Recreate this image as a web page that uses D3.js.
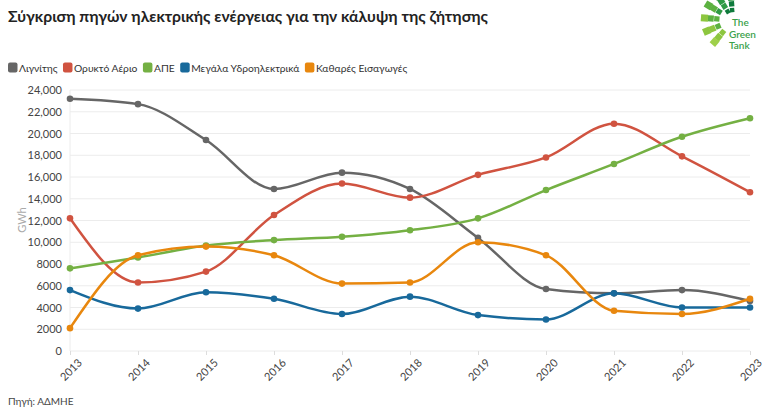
<!DOCTYPE html>
<html><head><meta charset="utf-8">
<script src="https://cdn.jsdelivr.net/npm/d3@7"></script>
<style>
body{margin:0;background:#fff;font-family:Lato,"Noto Sans",sans-serif;}
svg{display:block}
</style></head><body>
<svg id="c" width="767" height="415"></svg>
<script>
const years = [2013,2014,2015,2016,2017,2018,2019,2020,2021,2022,2023];
const lignite = [23200,22700,19400,14900,16400,14900,10400,5700,5300,5600,4600];
const gas     = [12200,6300,7300,12500,15400,14100,16200,17800,20900,17900,14600];
const res     = [7600,8600,9700,10200,10500,11100,12200,14800,17200,19700,21400];
const hydro   = [5600,3900,5400,4800,3400,5000,3300,2900,5300,4000,4000];
const imports = [2100,8800,9600,8800,6200,6300,10000,8800,3700,3400,4800];
const seriesNames = ["Λιγνίτης","Ορυκτό Αέριο","ΑΠΕ","Μεγάλα Υδροηλεκτρικά","Καθαρές Εισαγωγές"];
const seriesColors = ["#666666","#d05340","#74b043","#18699b","#e8870e"];
const yTicks = [0,2000,4000,6000,8000,10000,12000,14000,16000,18000,20000,22000,24000];
const title = "Σύγκριση πηγών ηλεκτρικής ενέργειας για την κάλυψη της ζήτησης";
const source = "Πηγή: ΑΔΜΗΕ";
const yLabel = "GWh";
const logoWords = ["The","Green","Tank"];

const seriesData = [lignite,gas,res,hydro,imports];
const svg = d3.select("#c");
const x = d3.scaleLinear().domain([2013,2023]).range([70,750]);
const y = d3.scaleLinear().domain([0,24000]).range([351,90]);
const fmt = v => v >= 10000 ? d3.format(",")(v) : String(v);

svg.append("text").attr("x",8).attr("y",22).attr("font-size",15.7).attr("font-weight",700)
  .attr("fill","#222").text(title);

// legend
let lx = 8;
const leg = svg.append("g");
seriesNames.forEach((n,i)=>{
  leg.append("rect").attr("x",lx).attr("y",62.5).attr("width",9.5).attr("height",10).attr("rx",2).attr("fill",seriesColors[i]);
  const t = leg.append("text").attr("x",lx+11).attr("y",71.5).attr("font-size",10.3).attr("fill","#333").text(n);
  lx += 11 + t.node().getComputedTextLength() + 5.5;
});

// grid
const g = svg.append("g");
g.selectAll("line.grid").data(yTicks).join("line").attr("class","grid")
  .attr("x1",70).attr("x2",750).attr("y1",d=>y(d)).attr("y2",d=>y(d))
  .attr("stroke","#ececec").attr("stroke-width",1);
g.append("line").attr("x1",70).attr("x2",70).attr("y1",y(24000)).attr("y2",y(0)).attr("stroke","#ececec");

// y axis
const yAxis = d3.axisLeft(y).tickValues(yTicks).tickFormat(fmt).tickSize(0).tickPadding(8);
const ya = svg.append("g").attr("transform","translate(70,0)").call(yAxis);
ya.select(".domain").remove();
ya.selectAll("text").attr("font-size",11).attr("fill","#444").attr("font-family","Lato,'Noto Sans',sans-serif");

svg.append("text").attr("transform","translate(26,220) rotate(-90)").attr("text-anchor","middle")
  .attr("font-size",11).attr("fill","#aaa").text(yLabel);

// x axis
const xAxis = d3.axisBottom(x).tickValues(years).tickFormat(d3.format("d")).tickSize(4).tickPadding(4);
const xa = svg.append("g").attr("transform",`translate(0,${y(0)})`).call(xAxis);
xa.select(".domain").remove();
xa.selectAll(".tick line").attr("stroke","#ddd");
xa.selectAll("text").attr("font-size",11).attr("fill","#444").attr("font-family","Lato,'Noto Sans',sans-serif")
  .attr("text-anchor","end").attr("dy","0.35em").attr("transform","translate(4,4) rotate(-45)");

// lines
const line = d3.line().x((d,i)=>x(years[i])).y(d=>y(d)).curve(d3.curveMonotoneX);
seriesData.forEach((s,k)=>{
  svg.append("path").datum(s).attr("d",line).attr("fill","none")
    .attr("stroke",seriesColors[k]).attr("stroke-width",2.5);
  svg.append("g").selectAll("circle").data(s).join("circle")
    .attr("cx",(d,i)=>x(years[i])).attr("cy",d=>y(d)).attr("r",3.3).attr("fill",seriesColors[k]);
});

svg.append("text").attr("x",8).attr("y",405).attr("font-size",10).attr("fill","#444").text(source);

// logo: fan of squares
const logo = svg.append("g").attr("transform","translate(733,20)");
const shades = ["#0f7a3c","#2f9a45","#5cb140","#8dc63f","#9fd04a"];
const angles = [95,122,149,176,203,230];
for(let r=0;r<4;r++){
  angles.forEach((a,j)=>{
    if(r===0 && j>1) return;
    const rad = 10 + r*6.2;
    const ang = a*Math.PI/180;
    const cx = rad*Math.cos(ang), cy = -rad*Math.sin(ang);
    const s = 4.4 + r*0.9;
    logo.append("rect").attr("x",-s/2).attr("y",-s/2).attr("width",s).attr("height",s)
      .attr("fill",shades[Math.min(4,Math.floor((j+r)/2))])
      .attr("transform",`translate(${cx},${cy}) rotate(${-a})`);
  });
}
logoWords.forEach((w,i)=>{
  logo.append("text").attr("x",i===0?-1:-4).attr("y",6+i*11.5).attr("font-size",10)
    .attr("font-weight",600).attr("fill","#3aa14a").attr("font-family","Lato,sans-serif").text(w);
});
</script>
</body></html>
